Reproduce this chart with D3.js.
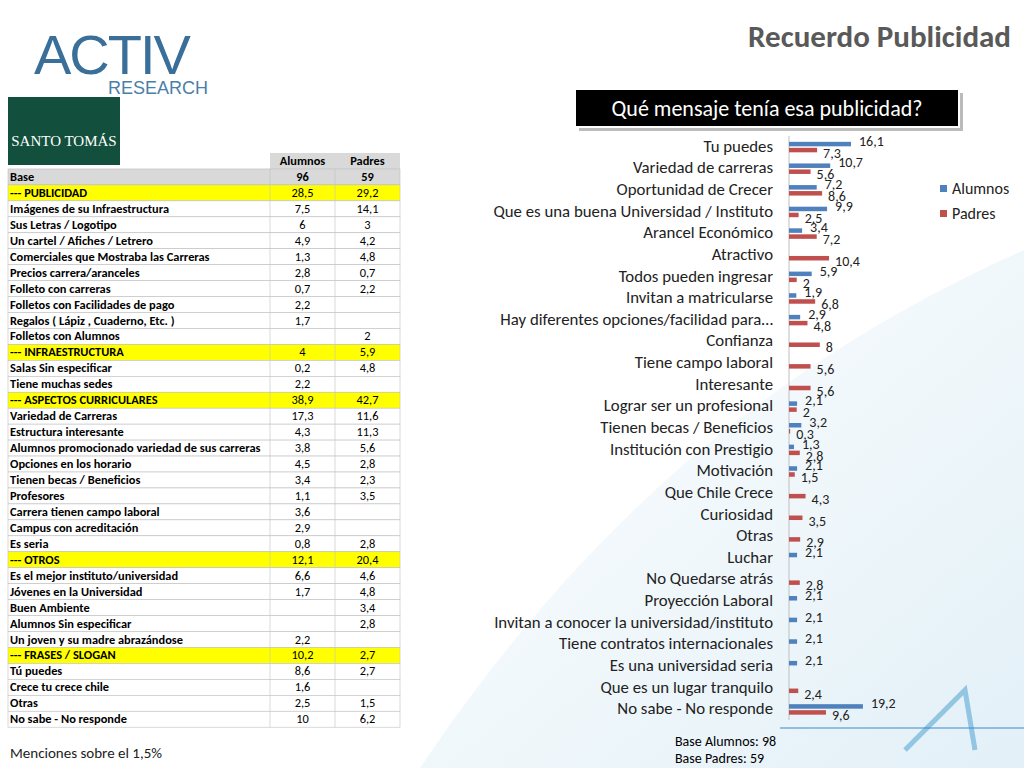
<!DOCTYPE html>
<html><head><meta charset="utf-8">
<script src="https://d3js.org/d3.v7.min.js"></script>
<style>body{margin:0;background:#fff}svg{display:block;font-family:Calibri,Carlito,"Liberation Sans",sans-serif}</style>
</head><body><svg id="c" width="1024" height="768"></svg>
<script>
const categories=["Tu puedes","Variedad de carreras","Oportunidad de Crecer","Que es una buena Universidad / Instituto","Arancel Económico","Atractivo","Todos pueden ingresar","Invitan a matricularse","Hay diferentes opciones/facilidad para…","Confianza","Tiene campo laboral","Interesante","Lograr ser un profesional","Tienen becas / Beneficios","Institución con Prestigio","Motivación","Que Chile Crece","Curiosidad","Otras","Luchar","No Quedarse atrás","Proyección Laboral","Invitan a conocer la universidad/instituto","Tiene contratos internacionales","Es una universidad seria","Que es un lugar tranquilo","No sabe - No responde"];
const alumnos=[16.1,10.7,7.2,9.9,3.4,null,5.9,1.9,2.9,null,null,null,2.1,3.2,1.3,2.1,null,null,null,2.1,null,2.1,2.1,2.1,2.1,null,19.2];
const padres=[7.3,5.6,8.6,2.5,7.2,10.4,2,6.8,4.8,8,5.6,5.6,2,0.3,2.8,1.5,4.3,3.5,2.9,null,2.8,null,null,null,null,2.4,9.6];
const seriesNames=["Alumnos","Padres"];
const colors=["#4F81BD","#C0504D"];
const tableRows=["Base","--- PUBLICIDAD","Imágenes de su Infraestructura","Sus Letras / Logotipo","Un cartel / Afiches / Letrero","Comerciales que Mostraba las Carreras","Precios carrera/aranceles","Folleto con carreras","Folletos con Facilidades de pago","Regalos ( Lápiz , Cuaderno, Etc. )","Folletos con Alumnos","--- INFRAESTRUCTURA","Salas Sin especificar","Tiene muchas sedes","--- ASPECTOS CURRICULARES","Variedad de Carreras","Estructura interesante","Alumnos promocionado variedad de sus carreras","Opciones en los horario","Tienen becas / Beneficios","Profesores","Carrera tienen campo laboral","Campus con acreditación","Es seria","--- OTROS","Es el mejor instituto/universidad","Jóvenes en la Universidad","Buen Ambiente","Alumnos  Sin especificar","Un joven y su madre abrazándose","--- FRASES / SLOGAN","Tú puedes","Crece tu crece chile","Otras","No sabe - No responde"];
const tableAlumnos=["96","28,5","7,5","6","4,9","1,3","2,8","0,7","2,2","1,7","","4","0,2","2,2","38,9","17,3","4,3","3,8","4,5","3,4","1,1","3,6","2,9","0,8","12,1","6,6","1,7","","","2,2","10,2","8,6","1,6","2,5","10"];
const tablePadres=["59","29,2","14,1","3","4,2","4,8","0,7","2,2","","","2","5,9","4,8","","42,7","11,6","11,3","5,6","2,8","2,3","3,5","","","2,8","20,4","4,6","4,8","3,4","2,8","","2,7","2,7","","1,5","6,2"];

const svg=d3.select("#c");
const defs=svg.append("defs");
const g1=defs.append("linearGradient").attr("id","sw").attr("x1",0).attr("y1",0).attr("x2",1).attr("y2",1);
g1.append("stop").attr("offset",0).attr("stop-color","#ffffff");
g1.append("stop").attr("offset",1).attr("stop-color","#cfe6f2");
svg.append("path").attr("d","M420,768 C600,500 800,350 1024,250 L1024,768 Z").attr("fill","url(#sw)").attr("opacity",0.6);

svg.append("text").attr("x",34).attr("y",74).attr("font-size",56).attr("font-family","Liberation Sans").attr("fill","#3a6f9a").attr("letter-spacing",-2).text("ACTIV");
svg.append("text").attr("x",108).attr("y",94).attr("font-size",18).attr("fill","#4a7fa8").attr("font-family","Liberation Sans").text("RESEARCH");
svg.append("text").attr("x",1011).attr("y",47).attr("text-anchor","end").attr("font-size",31).attr("font-weight","bold").attr("fill","#595959").text("Recuerdo Publicidad");
svg.append("rect").attr("x",8).attr("y",97).attr("width",112).attr("height",68).attr("fill","#12503d");
svg.append("text").attr("x",64).attr("y",146).attr("text-anchor","middle").attr("font-size",15).attr("fill","#fff").attr("font-family","Liberation Serif").text("SANTO TOMÁS");

const tx=8,tw=[262,65,65],ty=153,rh=15.95,fs=12.4;
const hdr=svg.append("g").attr("font-size",fs).attr("font-weight","bold");
hdr.append("rect").attr("x",tx+tw[0]).attr("y",ty).attr("width",tw[1]+tw[2]).attr("height",rh).attr("fill","#d9d9d9");
hdr.append("text").attr("x",tx+tw[0]+tw[1]/2).attr("y",ty+12).attr("text-anchor","middle").text("Alumnos");
hdr.append("text").attr("x",tx+tw[0]+tw[1]+tw[2]/2).attr("y",ty+12).attr("text-anchor","middle").text("Padres");
tableRows.forEach((r,i)=>{
  const y=ty+rh*(i+1);
  const sec=r.startsWith("---"), base=i===0;
  const fill=base?"#d9d9d9":sec?"#ffff00":"#ffffff";
  const g=svg.append("g").attr("font-size",fs).attr("font-weight","bold");
  g.append("rect").attr("x",tx).attr("y",y).attr("width",tw[0]+tw[1]+tw[2]).attr("height",rh).attr("fill",fill).attr("stroke","#bfbfbf").attr("stroke-width",0.6);
  [tw[0],tw[0]+tw[1]].forEach(xx=>g.append("line").attr("x1",tx+xx).attr("x2",tx+xx).attr("y1",y).attr("y2",y+rh).attr("stroke","#bfbfbf").attr("stroke-width",0.6));
  g.append("text").attr("x",tx+2).attr("y",y+12).text(r);
  g.append("text").attr("x",tx+tw[0]+tw[1]/2).attr("y",y+12).attr("text-anchor","middle").attr("font-weight",base?"bold":"normal").text(tableAlumnos[i]);
  g.append("text").attr("x",tx+tw[0]+tw[1]+tw[2]/2).attr("y",y+12).attr("text-anchor","middle").attr("font-weight",base?"bold":"normal").text(tablePadres[i]);
});
svg.append("text").attr("x",10).attr("y",758).attr("font-size",15).attr("fill","#222").text("Menciones sobre el 1,5%");

svg.append("rect").attr("x",579).attr("y",93).attr("width",384).attr("height",38).attr("fill","#bbb");
svg.append("rect").attr("x",575).attr("y",89).attr("width",384).attr("height",38).attr("fill","#000").attr("stroke","#fff").attr("stroke-width",2);
svg.append("text").attr("x",767).attr("y",116).attr("text-anchor","middle").attr("font-size",22).attr("fill","#fff").text("Qué mensaje tenía esa publicidad?");

const x0=789;
const x=d3.scaleLinear().domain([0,20]).range([x0,x0+77]);
const y=d3.scaleBand().domain(categories).range([136,720]);
const ch=svg.append("g");
ch.append("line").attr("x1",x0).attr("x2",x0).attr("y1",136).attr("y2",720).attr("stroke","#bfbfbf");
ch.selectAll(".lab").data(categories).join("text").attr("x",773).attr("y",d=>y(d)+y.bandwidth()/2+5).attr("text-anchor","end").attr("font-size",16.8).attr("fill","#222").text(d=>d);
[alumnos,padres].forEach((vals,s)=>{
  const data=categories.map((c,i)=>({c,v:vals[i]})).filter(d=>d.v!=null);
  const off=s===0?-5:1;
  ch.selectAll(".b"+s).data(data).join("rect").attr("x",x0).attr("y",d=>y(d.c)+y.bandwidth()/2+off).attr("width",d=>x(d.v)-x0).attr("height",4.5).attr("fill",colors[s]);
  ch.selectAll(".t"+s).data(data).join("text").attr("x",d=>x(d.v)+(s===0?8:6)).attr("y",d=>y(d.c)+y.bandwidth()/2+(s===0?-1:11)).attr("font-size",14).attr("fill","#222").text(d=>String(d.v).replace(".",","));
});
seriesNames.forEach((n,i)=>{
  svg.append("rect").attr("x",940).attr("y",185+i*25).attr("width",7).attr("height",7).attr("fill",colors[i]);
  svg.append("text").attr("x",952).attr("y",194+i*25).attr("font-size",16).attr("fill","#222").text(n);
});
svg.append("text").attr("x",675).attr("y",746).attr("font-size",14).text("Base Alumnos: 98");
svg.append("text").attr("x",675).attr("y",763).attr("font-size",14).text("Base Padres: 59");
svg.append("path").attr("d","M905,750 L965,690 L975,750").attr("fill","none").attr("stroke","#5aa9d6").attr("stroke-width",5).attr("opacity",0.6);
svg.append("line").attr("x1",780).attr("x2",1024).attr("y1",728).attr("y2",728).attr("stroke","#3a8ccc").attr("stroke-width",2).attr("opacity",0.5);
</script></body></html>
